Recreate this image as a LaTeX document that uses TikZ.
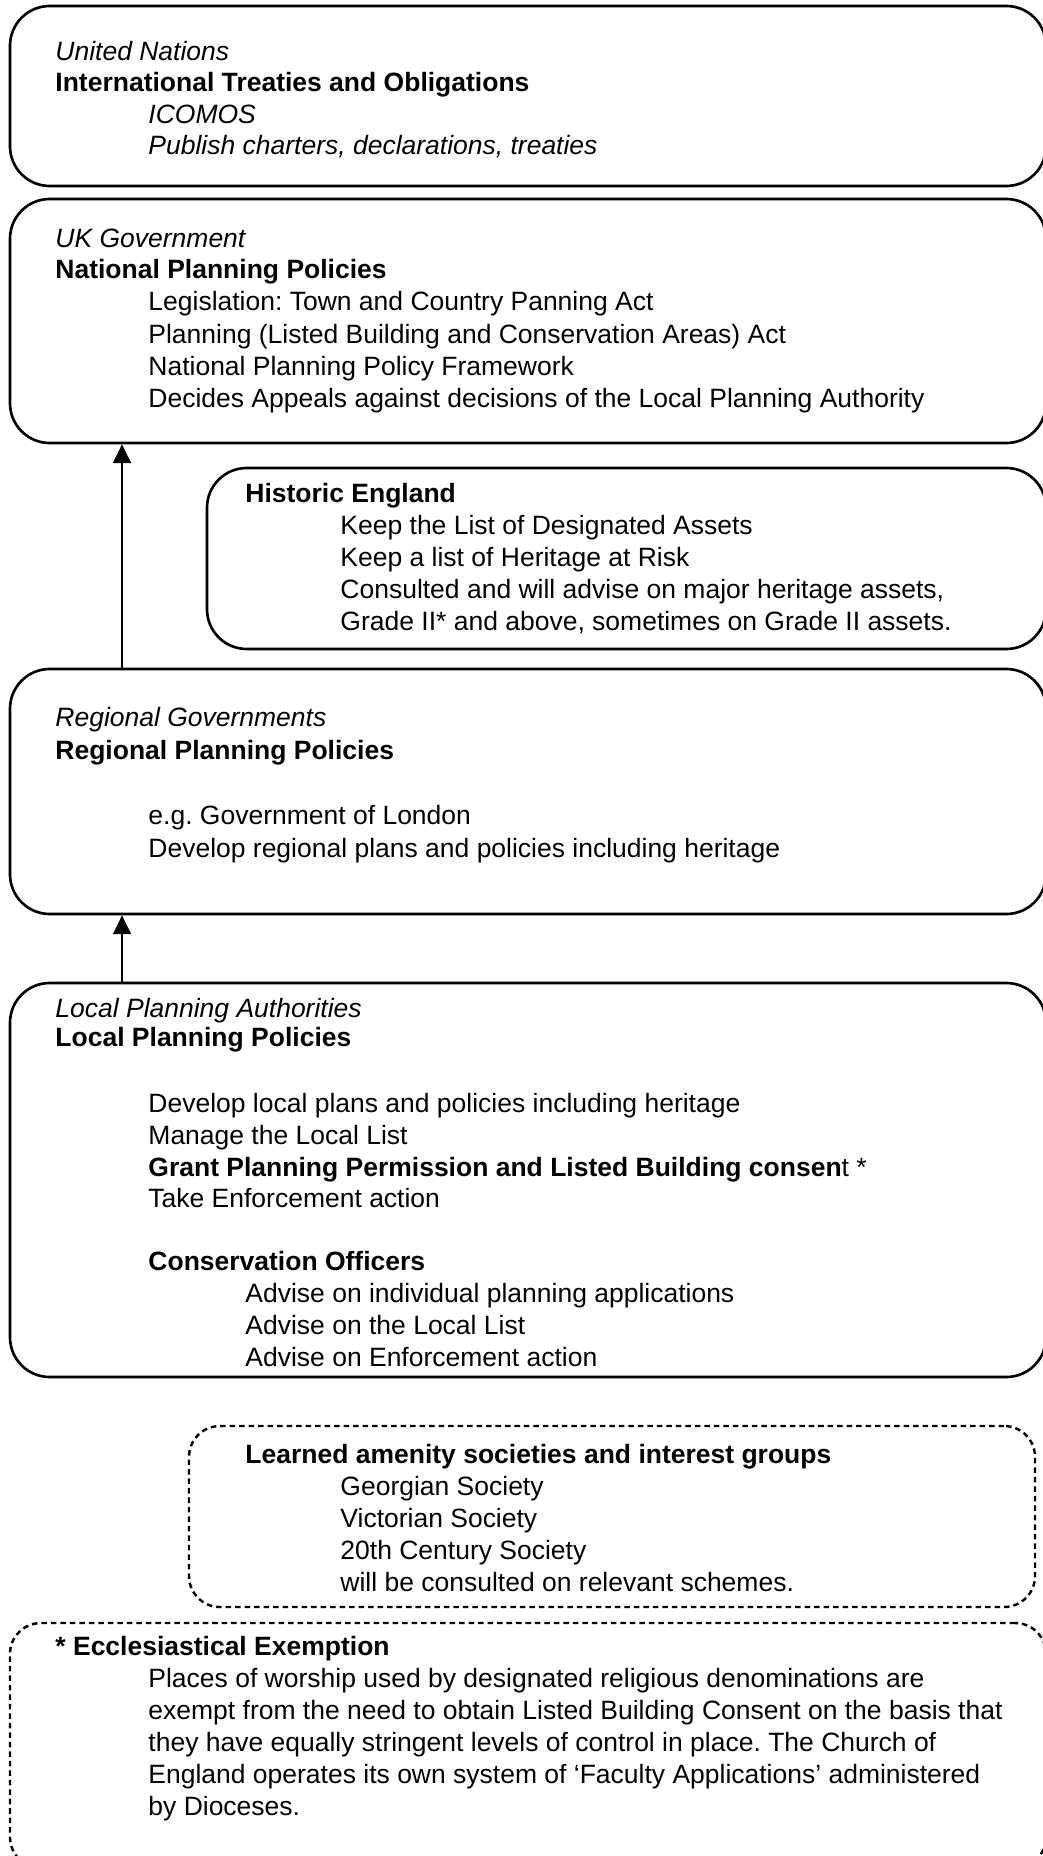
\documentclass[tikz,border=0pt]{standalone}
\usepackage{fontspec}
\setmainfont{Liberation Sans}
\usepackage{tikz}
\usetikzlibrary{shapes,arrows.meta,positioning,fit}
\frenchspacing

\tikzset{
	box/.style={draw,line width=1.2pt,rounded corners=18pt,inner sep=0pt},
	extbox/.style={draw,line width=1.1pt,dash pattern=on 2.5pt off 1.8pt,rounded corners=14pt,inner sep=0pt},
	txt/.style={anchor=base west,inner sep=0pt,font=\fontsize{12pt}{14.5pt}\selectfont},
	up/.style={-{Triangle[length=8.5pt,width=8pt]},line width=1.1pt}
}

\begin{document}
\begin{tikzpicture}[x=0.453pt,y=-0.453pt]
		\useasboundingbox (0,0) rectangle (1042,1856);
		% international level
		\node[box,fit={(10,6) (1046,186)}] (un) {};
		\node[txt] (un1) at (55,61) {\itshape United Nations};
		\node[txt] (un2) at (55,92) {\bfseries International Treaties and Obligations};
		\node[txt] (un3) at (148,124) {\itshape ICOMOS};
		\node[txt] (un4) at (148,155) {\itshape Publish charters, declarations, treaties};
		% national level
		\node[box,fit={(10,199) (1046,443)}] (uk) {};
		\node[txt] (uk1) at (55,248) {\itshape UK Government};
		\node[txt] (uk2) at (55,279) {\bfseries National Planning Policies};
		\node[txt] (uk3) at (148,311) {Legislation: Town and Country Panning Act};
		\node[txt] (uk4) at (148,343) {Planning (Listed Building and Conservation Areas) Act};
		\node[txt] (uk5) at (148,375) {National Planning Policy Framework};
		\node[txt] (uk6) at (148,407) {Decides Appeals against decisions of the Local Planning Authority};
		% historic england
		\node[box,fit={(207,468) (1046,649)}] (he) {};
		\node[txt] (he1) at (245,502) {\bfseries Historic England};
		\node[txt] (he2) at (340,534) {Keep the List of Designated Assets};
		\node[txt] (he3) at (340,566) {Keep a list of Heritage at Risk};
		\node[txt] (he4) at (340,598) {Consulted and will advise on major heritage assets,};
		\node[txt] (he5) at (340,630) {Grade II* and above, sometimes on Grade II assets.};
		% regional level
		\node[box,fit={(10,669) (1046,914)}] (reg) {};
		\node[txt] (reg1) at (55,726) {\itshape Regional Governments};
		\node[txt] (reg2) at (55,759) {\bfseries Regional Planning Policies};
		\node[txt] (reg3) at (148,824) {e.g. Government of London};
		\node[txt] (reg4) at (148,857) {Develop regional plans and policies including heritage};
		% local level
		\node[box,fit={(10,983) (1046,1377)}] (lpa) {};
		\node[txt] (lpa1) at (55,1017) {\itshape Local Planning Authorities};
		\node[txt] (lpa2) at (55,1046) {\bfseries Local Planning Policies};
		\node[txt] (lpa3) at (148,1112) {Develop local plans and policies including heritage};
		\node[txt] (lpa4) at (148,1144) {Manage the Local List};
		\node[txt] (lpa5) at (148,1176) {{\bfseries Grant Planning Permission and Listed Building consen}t *};
		\node[txt] (lpa6) at (148,1207) {Take Enforcement action};
		\node[txt] (co1) at (148,1270) {\bfseries Conservation Officers};
		\node[txt] (co2) at (245,1302) {Advise on individual planning applications};
		\node[txt] (co3) at (245,1334) {Advise on the Local List};
		\node[txt] (co4) at (245,1366) {Advise on Enforcement action};
		% societies
		\node[extbox,fit={(189,1426) (1035,1607)}] (soc) {};
		\node[txt] (soc1) at (245,1463) {\bfseries Learned amenity societies and interest groups};
		\node[txt] (soc2) at (340,1495) {Georgian Society};
		\node[txt] (soc3) at (340,1527) {Victorian Society};
		\node[txt] (soc4) at (340,1559) {20th Century Society};
		\node[txt] (soc5) at (340,1591) {will be consulted on relevant schemes.};
		% footnote
		\node[extbox,fit={(10,1623) (1046,1868)}] (ee) {};
		\node[txt] (ee1) at (55,1655) {\bfseries * Ecclesiastical Exemption};
		\node[txt] (ee2) at (148,1687) {Places of worship used by designated religious denominations are};
		\node[txt] (ee3) at (148,1719) {exempt from the need to obtain Listed Building Consent on the basis that};
		\node[txt] (ee4) at (148,1751) {they have equally stringent levels of control in place. The Church of};
		\node[txt] (ee5) at (148,1783) {England operates its own system of ‘Faculty Applications’ administered};
		\node[txt] (ee6) at (148,1815) {by Dioceses.};
		% reporting lines
		\coordinate (ax) at (122,0);
		\draw[up] (ax |- reg.north) -- (ax |- uk.south);
		\draw[up] (ax |- lpa.north) -- (ax |- reg.south);
	\end{tikzpicture}
\end{document}
